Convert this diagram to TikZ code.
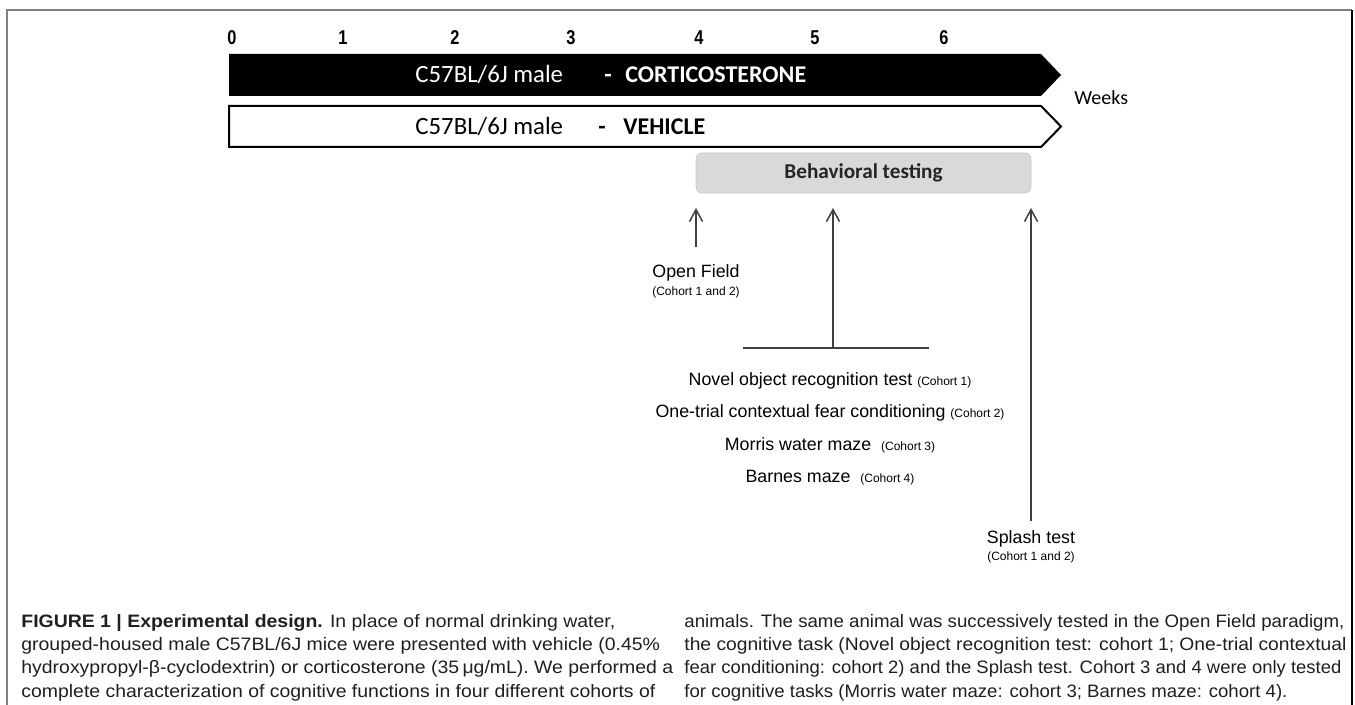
\documentclass[tikz,border=0pt]{standalone}
\usepackage{fontspec}
\usepackage{graphicx}
\setmainfont{Liberation Sans}
\newfontfamily\calfont{Carlito}
\newfontfamily\narrowfont[FakeStretch=0.82]{Liberation Sans}
\usetikzlibrary{arrows.meta}
\definecolor{boxgray}{HTML}{D9D9D9}
\definecolor{arrgray}{HTML}{404040}
\definecolor{framegray}{HTML}{808080}
\newcommand{\capw}[1]{\scalebox{1.08}[1]{#1}}
\newcommand{\capfit}[2]{\resizebox{#1}{\height}{#2}}
\begin{document}
\begin{tikzpicture}[x=0.5pt,y=-0.5pt,
  tick/.style={font=\narrowfont\bfseries\fontsize{10}{11}\selectfont, inner sep=0},
  bartext/.style={font=\calfont\fontsize{12.4}{14}\selectfont, inner sep=0, anchor=base west},
  barbold/.style={font=\calfont\bfseries\fontsize{12}{14}\selectfont, inner sep=0, anchor=base west},
  lbl/.style={font=\fontsize{8.9}{10}\selectfont, inner sep=0},
  smalllbl/.style={font=\fontsize{6}{7}\selectfont, inner sep=0},
  uparrow/.style={draw=arrgray, line width=0.75pt, -{Straight Barb[length=6pt,width=6.5pt]}},
  capline/.style={font=\fontsize{9}{10}\selectfont, inner sep=0, anchor=base west, text=black!88},
]
\useasboundingbox (0,0) rectangle (1355,705);
% frame
\draw[framegray, line width=1pt] (7,720) -- (7,10) -- (1352,10);
\draw[black, line width=1pt] (1352,10) -- (1352,720);

% week ticks
\node[tick] (t0) at (232,38) {0};
\node[tick] (t1) at (343,38) {1};
\node[tick] (t2) at (455,38) {2};
\node[tick] (t3) at (571,38) {3};
\node[tick] (t4) at (699,38) {4};
\node[tick] (t5) at (815,38) {5};
\node[tick] (t6) at (944,38) {6};

% bars
\fill[black] (229,54) -- (1041,54) -- (1061,75) -- (1041,96) -- (229,96) -- cycle;
\draw[black, line width=1pt, fill=white] (229,106) -- (1041,106) -- (1061,126.5) -- (1041,147) -- (229,147) -- cycle;

\node[bartext, text=white] (m1) at (415,83) {C57BL/6J male};
\node[barbold, text=white] (d1) at (604,83) {-};
\node[barbold, text=white] (cort) at (625,83) {CORTICOSTERONE};
\node[bartext] (m2) at (415,134.5) {C57BL/6J male};
\node[barbold] (d2) at (598,134.5) {-};
\node[barbold] (veh) at (623,134.5) {VEHICLE};

\node[font=\calfont\fontsize{10}{12}\selectfont, inner sep=0, anchor=west] (weeks) at (1074,98) {Weeks};

% behavioral testing box
\node[fill=boxgray, draw=boxgray!92!black, line width=0.3pt, rounded corners=3pt,
      minimum width=167.5pt, minimum height=20pt, inner sep=0,
      font=\calfont\bfseries\fontsize{10.6}{12}\selectfont, text=black!85] (bt) at (863.5,173) {Behavioral testing};

% arrows
\coordinate (ofTop) at (696,208);
\coordinate (ofBot) at (696,247);
\coordinate (midTop) at (833,208);
\coordinate (midBot) at (833,348);
\coordinate (hl) at (743,348);
\coordinate (hr) at (929,348);
\coordinate (spTop) at (1031,208);
\coordinate (spBot) at (1031,521);
\draw[uparrow] (ofBot) -- (ofTop);
\draw[uparrow] (midBot) -- (midTop);
\draw[uparrow] (spBot) -- (spTop);
\draw[arrgray, line width=0.75pt] (hl) -- (hr);

% labels
\node[lbl] (of) at (696,273) {Open Field};
\node[smalllbl] (ofc) at (696,292) {(Cohort 1 and 2)};

\node[lbl] (nor) at (830,381) {Novel object recognition test {\fontsize{6}{7}\selectfont(Cohort 1)}};
\node[lbl] (cfc) at (830,413) {One-trial contextual fear conditioning {\fontsize{6}{7}\selectfont(Cohort 2)}};
\node[lbl] (mwm) at (830,445) {Morris water maze \ {\fontsize{6}{7}\selectfont(Cohort 3)}};
\node[lbl] (bm) at (830,478) {Barnes maze \ {\fontsize{6}{7}\selectfont(Cohort 4)}};

\node[lbl] (sp) at (1031,539) {Splash test};
\node[smalllbl] (spc) at (1031,557) {(Cohort 1 and 2)};

% caption
\node[capline] (cl1) at (21,627) {\capw{\textbf{FIGURE 1 | Experimental design.} In place of normal drinking water,}};
\node[capline] (cl2) at (21,650) {\capw{grouped-housed male C57BL/6J mice were presented with vehicle (0.45\%}};
\node[capline] (cl3) at (21,673) {\capw{hydroxypropyl-β-cyclodextrin) or corticosterone (35\,μg/mL). We performed a}};
\node[capline] (cl4) at (21,697) {\capw{complete characterization of cognitive functions in four different cohorts of}};
\node[capline] (cr1) at (684,627) {\capfit{330pt}{animals. The same animal was successively tested in the Open Field paradigm,}};
\node[capline] (cr2) at (684,650) {\capfit{331pt}{the cognitive task (Novel object recognition test: cohort 1; One-trial contextual}};
\node[capline] (cr3) at (684,673) {\capfit{328.5pt}{fear conditioning: cohort 2) and the Splash test. Cohort 3 and 4 were only tested}};
\node[capline] (cr4) at (684,697) {\capfit{301.5pt}{for cognitive tasks (Morris water maze: cohort 3; Barnes maze: cohort 4).}};
\end{tikzpicture}
\end{document}
